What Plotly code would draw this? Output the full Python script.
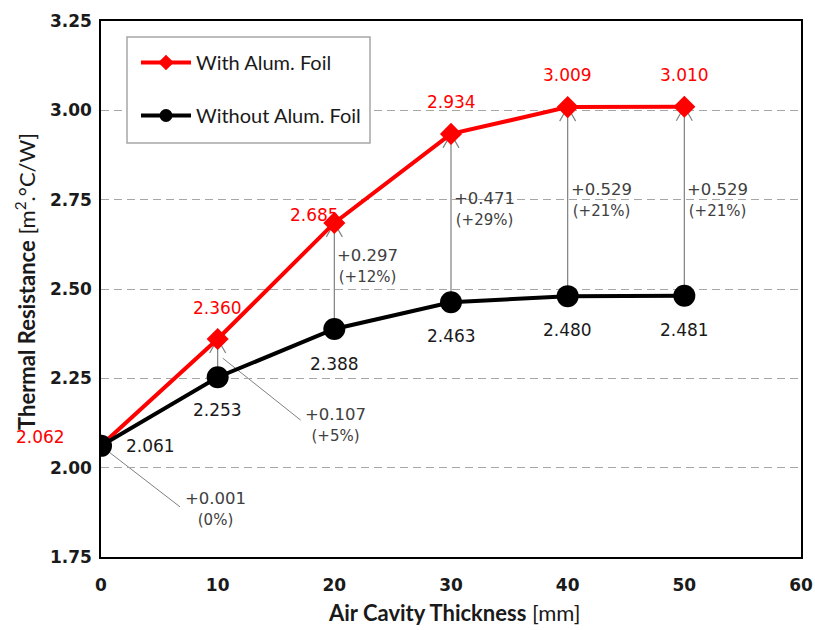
import plotly.graph_objects as go

# ---- data ----
thickness_mm = [0, 10, 20, 30, 40, 50]
r_with_foil = [2.062, 2.360, 2.685, 2.934, 3.009, 3.010]
r_without_foil = [2.061, 2.253, 2.388, 2.463, 2.480, 2.481]
gain_pct_text = ["(0%)", "(+5%)", "(+12%)", "(+29%)", "(+21%)", "(+21%)"]
x_ticks = [0, 10, 20, 30, 40, 50, 60]
y_ticks = [1.75, 2.00, 2.25, 2.50, 2.75, 3.00, 3.25]

# ---- layout constants ----
W, H = 815, 630
ML, MR, MT, MB = 101, 14, 21, 73
PW, PH = W - ML - MR, H - MT - MB
X_RANGE = [0, 60]
Y_RANGE = [1.75, 3.25]
px_x = (X_RANGE[1] - X_RANGE[0]) / PW   # data units per pixel, x
px_y = (Y_RANGE[1] - Y_RANGE[0]) / PH   # data units per pixel, y

RED = "#FF0000"
INK = "#1a1a1a"
GAIN_INK = "#404040"
ARROW = "#808080"
NUM_FONT = "DejaVu Sans"
TXT_FONT = "Lato"

# label offsets (pixels) for the value labels
red_shift = [(-61, 9), (0, 31), (-20, 8), (0, 32), (0, 32), (0, 32)]
black_shift = [(49, 0), (0, -33), (0, -35), (0, -34), (0, -34), (0, -34)]
# gain label block: vertical centre (pixels above the upper point, negative = below)
gain_block_dy = [None, None, -43, -75, -93, -93]

fig = go.Figure()

fig.add_trace(go.Scatter(
    x=thickness_mm, y=r_with_foil, mode="lines+markers",
    name="With Alum. Foil", showlegend=False,
    line=dict(color=RED, width=4),
    marker=dict(symbol="diamond", size=17, color=RED),
))
fig.add_trace(go.Scatter(
    x=thickness_mm, y=r_without_foil, mode="lines+markers",
    name="Without Alum. Foil", showlegend=False,
    line=dict(color="#000000", width=4),
    marker=dict(symbol="circle", size=22, color="#000000"),
))
# legend entries with smaller key symbols
fig.add_trace(go.Scatter(
    x=[None], y=[None], mode="lines+markers", name="With Alum. Foil",
    legendgroup="a", line=dict(color=RED, width=4),
    marker=dict(symbol="diamond", size=12, color=RED),
))
fig.add_trace(go.Scatter(
    x=[None], y=[None], mode="lines+markers", name="Without Alum. Foil",
    legendgroup="b", line=dict(color="#000000", width=4),
    marker=dict(symbol="circle", size=13, color="#000000"),
))

shapes = []
annotations = []

# legend frame
shapes.append(dict(
    type="rect", xref="paper", yref="paper", layer="above",
    x0=(127 - ML) / PW, x1=(370 - ML) / PW,
    y0=1 - (143 - MT) / PH, y1=1 - (37 - MT) / PH,
    line=dict(color="#A6A6A6", width=1.5), fillcolor="white",
))

# gain arrows from the bare cavity to the foil-lined cavity
hx, hy = 8 * px_x, 14 * px_y
for i, x in enumerate(thickness_mm):
    lo, hi = r_without_foil[i], r_with_foil[i]
    if hi - lo < 0.01:
        continue
    path = (f"M{x},{lo} L{x},{hi} "
            f"M{x - hx},{hi - hy} L{x},{hi} L{x + hx},{hi - hy}")
    shapes.append(dict(type="path", xref="x", yref="y", path=path, layer="below",
                       line=dict(color=ARROW, width=1.2)))

# value labels
for i, x in enumerate(thickness_mm):
    dx, dy = red_shift[i]
    annotations.append(dict(
        x=x, y=r_with_foil[i], xref="x", yref="y", text=f"{r_with_foil[i]:.3f}",
        showarrow=False, xshift=dx, yshift=dy,
        font=dict(family=NUM_FONT, size=17, color=RED)))
    dx, dy = black_shift[i]
    annotations.append(dict(
        x=x, y=r_without_foil[i], xref="x", yref="y", text=f"{r_without_foil[i]:.3f}",
        showarrow=False, xshift=dx, yshift=dy,
        font=dict(family=NUM_FONT, size=17, color=INK)))


def gain_text(i):
    d = r_with_foil[i] - r_without_foil[i]
    return (f"+{d:.3f}<br><span style='font-size:15px'>{gain_pct_text[i]}</span>")


# gain labels with leader lines (small gains)
# (anchor fraction along the gain, leader start dx, leader end (dx, dy), text (dx, dy)) in px
leaders = {0: (0.0, 0, (79, -61), (114, -63)), 1: (0.5, 5, (83, -62), (118, -67))}
for i, (frac, sx, (lx, ly), (tx, ty)) in leaders.items():
    x0 = thickness_mm[i]
    y_anchor = r_without_foil[i] + frac * (r_with_foil[i] - r_without_foil[i])
    shapes.append(dict(
        type="line", xref="x", yref="y", layer="below",
        x0=x0 + sx * px_x, y0=y_anchor,
        x1=x0 + lx * px_x, y1=y_anchor + ly * px_y,
        line=dict(color=ARROW, width=1)))
    annotations.append(dict(
        x=x0, y=y_anchor, xref="x", yref="y", text=gain_text(i),
        showarrow=False, xshift=tx, yshift=ty, align="center",
        font=dict(family=NUM_FONT, size=16.5, color=GAIN_INK)))

# gain labels beside the arrows
for i, x in enumerate(thickness_mm):
    if gain_block_dy[i] is None:
        continue
    annotations.append(dict(
        x=x, y=r_with_foil[i], xref="x", yref="y", text=gain_text(i),
        showarrow=False, xanchor="left", xshift=1, yshift=gain_block_dy[i],
        align="center",
        font=dict(family=NUM_FONT, size=16.5, color=GAIN_INK)))

# axis titles
annotations.append(dict(
    x=(454 - ML) / PW, y=-(612 - MT - PH) / PH, xref="paper", yref="paper",
    xanchor="center", yanchor="middle",
    text="<b>Air Cavity Thickness</b> [mm]", showarrow=False,
    font=dict(family=TXT_FONT, size=22, color=INK)))
annotations.append(dict(
    x=(25 - ML) / PW, y=1 - (282 - MT) / PH, xref="paper", yref="paper",
    xanchor="center", yanchor="middle",
    text="<b>Thermal Resistance</b> [m<sup>2</sup>.°C/W]", showarrow=False,
    textangle=-90, font=dict(family=TXT_FONT, size=22, color=INK)))

fig.update_layout(
    width=W, height=H,
    margin=dict(l=ML, r=MR, t=MT, b=MB, autoexpand=False),
    paper_bgcolor="white", plot_bgcolor="white",
    shapes=shapes, annotations=annotations,
    showlegend=True,
    legend=dict(
        x=(136 - ML) / PW, y=1 - (43 - MT) / PH, xanchor="left", yanchor="top",
        bgcolor="rgba(0,0,0,0)", borderwidth=0,
        traceorder="grouped", tracegroupgap=24, itemwidth=50,
        font=dict(family=TXT_FONT, size=20, color=INK),
    ),
    xaxis=dict(
        range=X_RANGE, tickvals=x_ticks, ticktext=[str(v) for v in x_ticks],
        showgrid=False, zeroline=False, ticks="",
        showline=True, linecolor="#000000", linewidth=1.5, mirror=True,
        ticklabelstandoff=12,
        tickfont=dict(family=NUM_FONT, size=17, color=INK, weight="bold"),
    ),
    yaxis=dict(
        range=Y_RANGE, tickvals=y_ticks, ticktext=[f"{v:.2f}" for v in y_ticks],
        showgrid=True, gridcolor="#A6A6A6", gridwidth=1, griddash="8px,5px",
        zeroline=False, ticks="",
        showline=True, linecolor="#000000", linewidth=1.5, mirror=True,
        ticklabelstandoff=4,
        tickfont=dict(family=NUM_FONT, size=17, color=INK, weight="bold"),
    ),
)

fig.write_html("out.html")
